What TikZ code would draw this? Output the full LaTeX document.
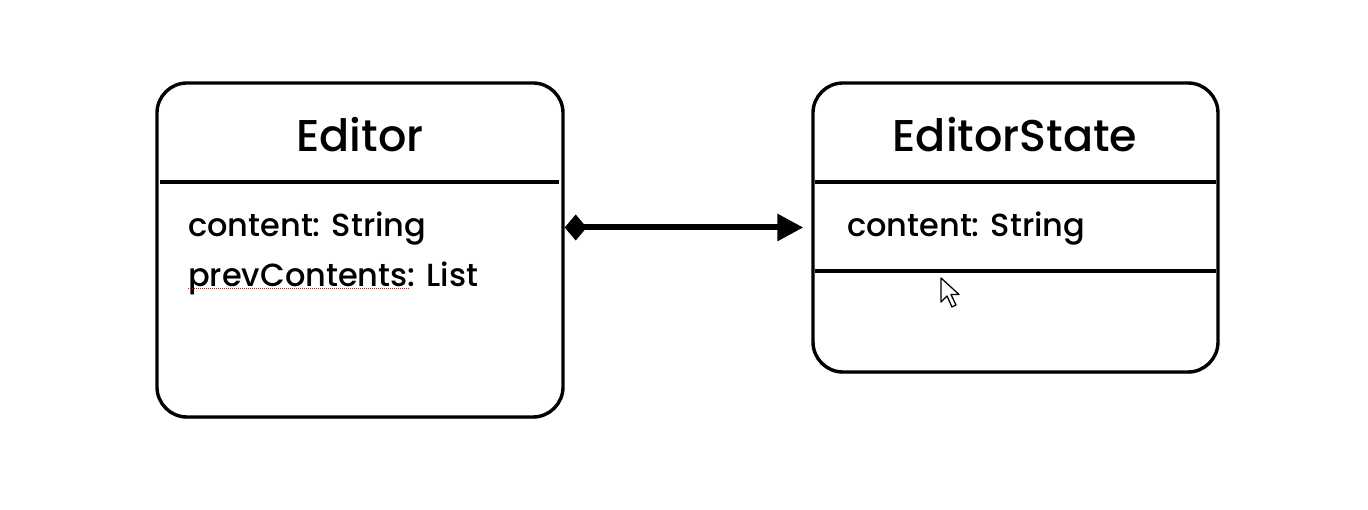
\documentclass[tikz,border=0pt]{standalone}
\usepackage{fontspec}
\setmainfont{Poppins}[UprightFont=* Medium]
\usetikzlibrary{arrows.meta,shadows}
\begin{document}
\begin{tikzpicture}[x=1pt,y=-1pt,
  umlbox/.style={draw=black, line width=3.4pt, rounded corners=30pt, fill=white,
    inner sep=0pt, drop shadow={shadow xshift=0pt, shadow yshift=-2pt, opacity=0.3, fill=black!60}},
  divider/.style={line width=3.2pt},
  title/.style={anchor=base, inner sep=0pt, font=\fontsize{44.5}{48}\selectfont},
  attr/.style={anchor=base west, inner sep=0pt, font=\fontsize{32}{36}\selectfont},
  comp/.style={line width=6pt, {Diamond[length=22pt,width=26pt]}-{Triangle[length=26pt,width=26pt]}},
  spell/.style={red, line width=1pt, dash pattern=on 1pt off 1pt},
  cursor/.style={fill=white, draw=black, line width=1.3pt, line join=round}
]
\useasboundingbox (0,0) rectangle (1368,510);
\fill[white] (0,0) rectangle (1368,510);

% Editor class
\node[umlbox, minimum width=406pt, minimum height=334pt] (editor) at (360,250) {};
\node[title] (editortitle) at (360,152) {Editor};
\coordinate (ediv1l) at (160,182);
\coordinate (ediv1r) at (559,182);
\draw[divider] (ediv1l) -- (ediv1r);
\node[attr] (eattr1) at (188,237) {content: String};
\node[attr] (eattr2) at (188,287) {prevContents: List};
\coordinate (spellA) at (188,289);
\coordinate (spellB) at (410,289);
\draw[spell] (spellA) -- (spellB);

% EditorState class
\node[umlbox, minimum width=405pt, minimum height=289pt] (state) at (1015.5,227.5) {};
\node[title] (statetitle) at (1015,152) {EditorState};
\coordinate (sdiv1l) at (815,182);
\coordinate (sdiv1r) at (1216,182);
\draw[divider] (sdiv1l) -- (sdiv1r);
\coordinate (sdiv2l) at (815,271);
\coordinate (sdiv2r) at (1216,271);
\draw[divider] (sdiv2l) -- (sdiv2r);
\node[attr] (sattr1) at (847,237) {content: String};

% composition
\draw[comp, shorten >=8pt] (editor.east |- state.center) -- (state.west);

% mouse pointer
\draw[cursor] (941,278) -- (941,302) -- (947,296) -- (952,307) -- (956,305) -- (951,294.5) -- (959,294.5) -- cycle;
\end{tikzpicture}
\end{document}
